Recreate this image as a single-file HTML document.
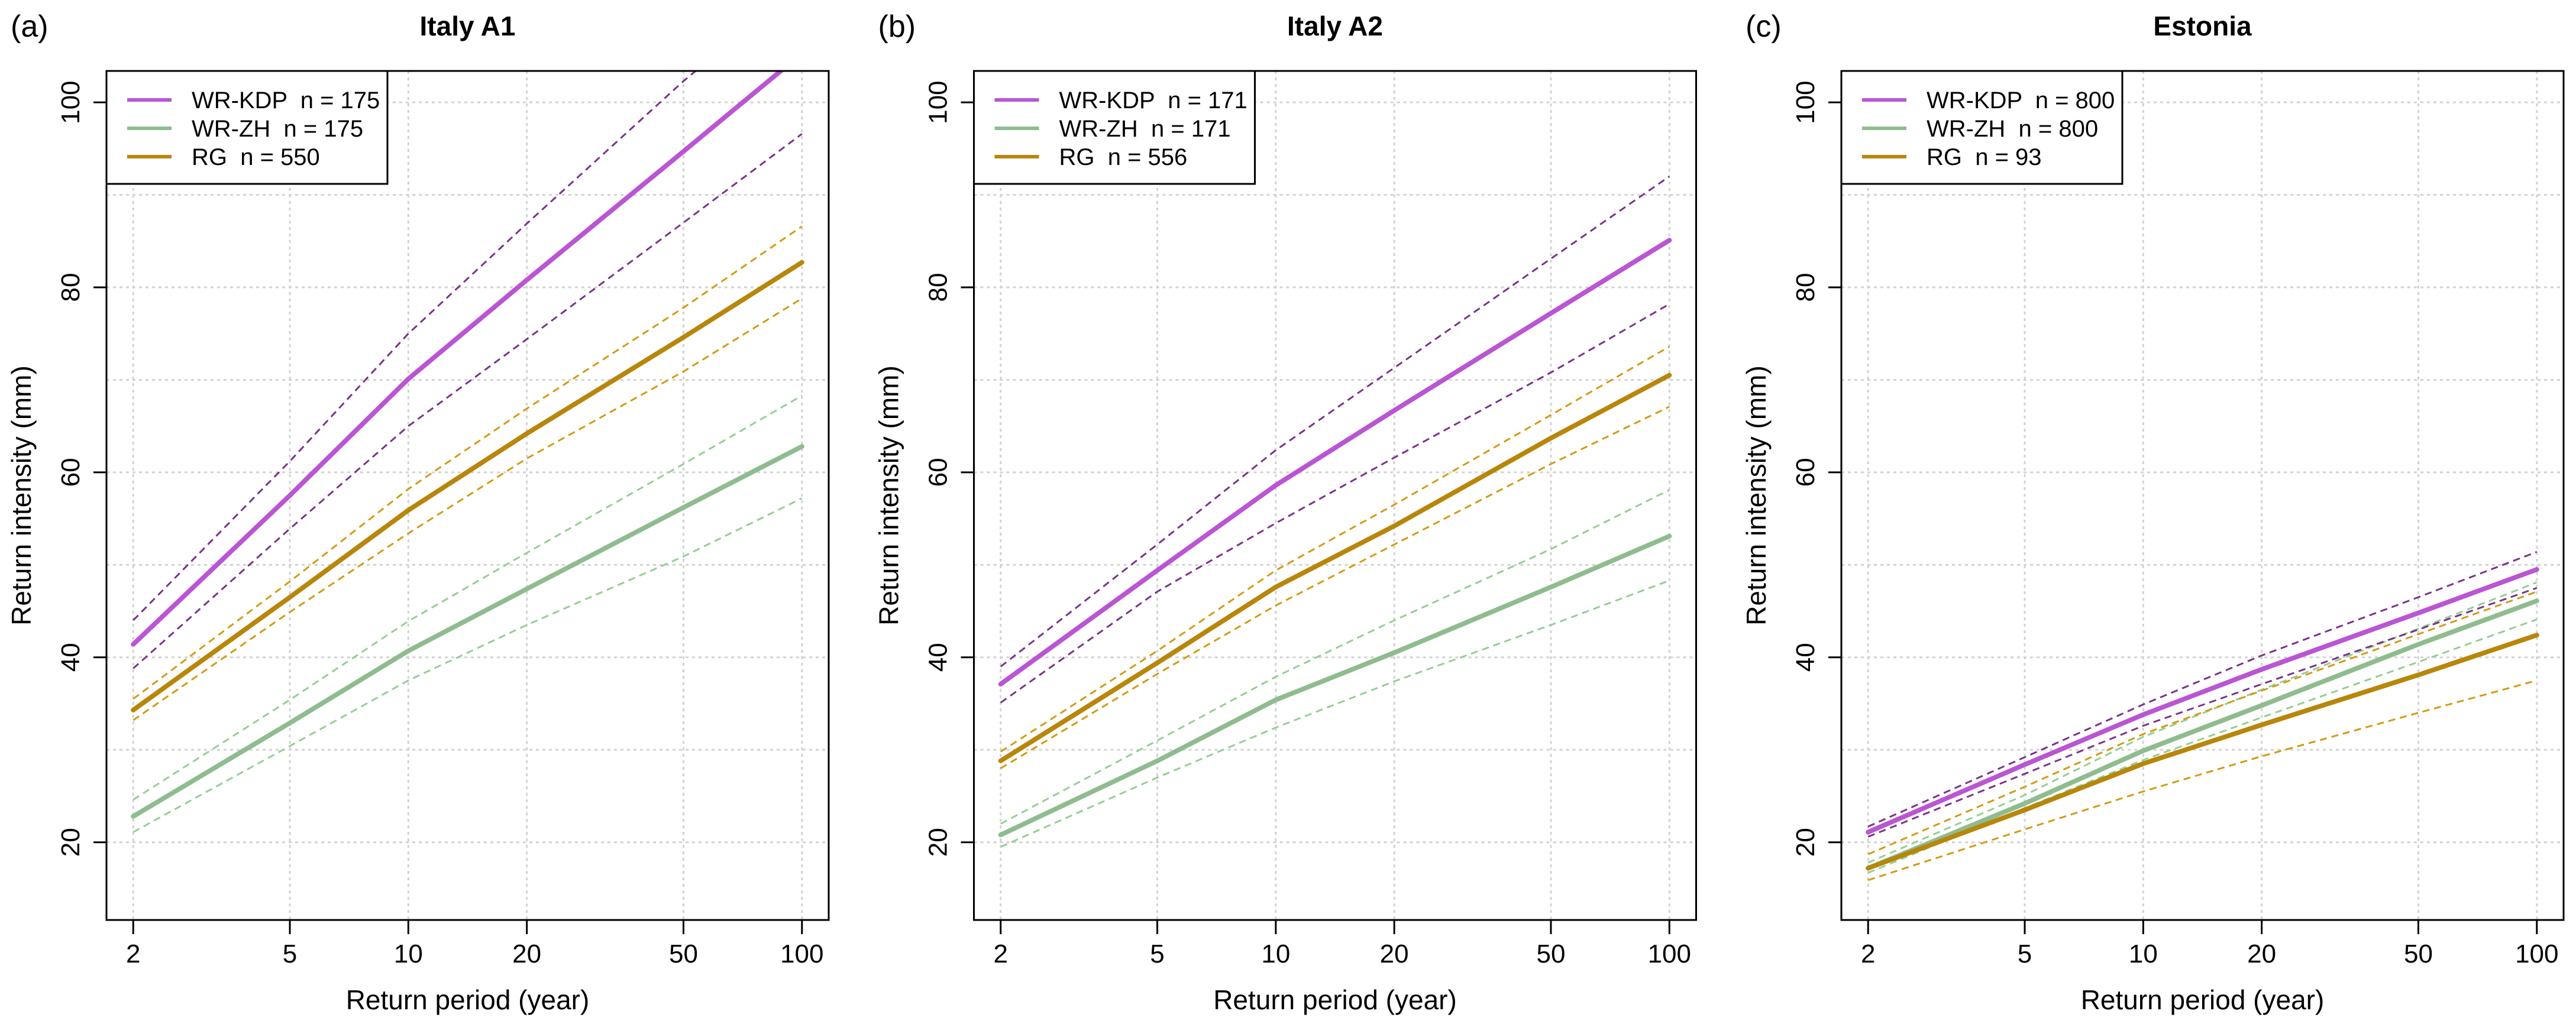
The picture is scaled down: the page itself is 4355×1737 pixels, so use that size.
<!DOCTYPE html>
<html><head><meta charset="utf-8"><style>
html,body{margin:0;padding:0;background:#fff;}
svg{display:block;font-family:"Liberation Sans",Arial,sans-serif;}
</style></head><body>
<svg id="chart" width="4355" height="1737" viewBox="0 0 4355 1737" xmlns="http://www.w3.org/2000/svg"></svg>
<script>
const periods = [2, 5, 10, 20, 50, 100];
const xTicks = [2, 5, 10, 20, 50, 100];
const yTicks = [20, 40, 60, 80, 100];
const yGrid = [20, 30, 40, 50, 60, 70, 80, 90, 100];
const panelTitles = ["Italy A1", "Italy A2", "Estonia"];
const panelLabels = ["(a)", "(b)", "(c)"];
const legendKDP = ["WR-KDP  n = 175", "WR-KDP  n = 171", "WR-KDP  n = 800"];
const legendZH = ["WR-ZH  n = 175", "WR-ZH  n = 171", "WR-ZH  n = 800"];
const legendRG = ["RG  n = 550", "RG  n = 556", "RG  n = 93"];

const kdpMain = [[41.4,57.5,70.1,80.8,94.7,105.3],[37.1,49.4,58.6,66.7,77.2,85.1],[21.1,28.4,33.8,38.7,44.8,49.5]];
const kdpUp   = [[44.0,61.2,75.0,86.9,102.3,113.0],[39.0,52.2,62.4,71.3,83.1,92.0],[21.7,29.2,34.9,40.2,46.5,51.4]];
const kdpLow  = [[38.8,53.9,65.0,74.4,87.0,96.6],[35.1,47.1,54.5,61.6,70.8,78.2],[20.6,27.4,32.6,37.1,43.0,47.5]];
const zhMain  = [[22.8,32.9,40.7,47.4,56.2,62.8],[20.8,28.8,35.4,40.5,47.6,53.1],[17.2,24.2,29.9,34.8,41.4,46.1]];
const zhUp    = [[24.6,35.4,43.9,51.3,60.9,68.3],[22.0,31.0,37.9,44.0,51.7,58.1],[17.8,25.1,31.4,36.5,43.1,48.1]];
const zhLow   = [[21.1,30.4,37.5,43.5,50.9,57.2],[19.5,27.0,32.4,37.4,43.5,48.3],[16.7,23.7,28.9,33.5,39.5,44.1]];
const rgMain  = [[34.3,46.5,55.9,64.2,74.6,82.7],[28.8,39.4,47.6,54.2,63.7,70.5],[17.2,23.5,28.5,32.7,38.1,42.4]];
const rgUp    = [[35.5,48.2,58.2,66.9,77.8,86.6],[29.8,40.7,49.4,56.5,66.2,73.6],[18.7,26.0,31.7,36.4,42.5,47.1]];
const rgLow   = [[33.2,44.9,53.4,61.5,70.9,78.8],[28.0,38.2,45.6,52.2,60.9,67.1],[15.9,21.4,25.5,29.3,34.0,37.5]];

const NS = "http://www.w3.org/2000/svg";
const svg = document.getElementById("chart");
function mk(tag, attrs, parent){const e=document.createElementNS(NS,tag);for(const k in attrs)e.setAttribute(k,attrs[k]);(parent||svg).appendChild(e);return e;}

const TOP=120, BOT=1556, W=1221;
const Y0=11.6, Y1=103.4;
function yS(v){return BOT-(v-Y0)/(Y1-Y0)*(BOT-TOP);}

const defs = mk("defs",{});
for(let p=0;p<3;p++){
  const L = 180 + 1466.5*p;
  const lx0 = Math.log(2)-0.04*Math.log(50), lx1 = Math.log(100)+0.04*Math.log(50);
  const xS = v => L + (Math.log(v)-lx0)/(lx1-lx0)*W;
  const cp = mk("clipPath",{id:"clip"+p},defs);
  mk("rect",{x:L,y:TOP,width:W,height:BOT-TOP},cp);

  const g = mk("g",{});
  
  

  // grid
  const grid = mk("g",{stroke:"#d3d3d3","stroke-width":3,"stroke-dasharray":"5 6"},g);
  
  
  xTicks.forEach(t=>mk("line",{x1:xS(t),x2:xS(t),y1:TOP,y2:BOT},grid));
  yGrid.forEach(t=>mk("line",{x1:L,x2:L+W,y1:yS(t),y2:yS(t)},grid));

  // series
  const sg = mk("g",{"clip-path":"url(#clip"+p+")",fill:"none","stroke-linejoin":"round","stroke-linecap":"round"},g);
  const series = [
    [zhUp[p],"#93cf93",3,"ci-upper-wr-zh",true],[zhLow[p],"#93cf93",3,"ci-lower-wr-zh",true],
    [rgUp[p],"#d49a10",3,"ci-upper-rg",true],[rgLow[p],"#d49a10",3,"ci-lower-rg",true],
    [kdpUp[p],"#7b318c",3,"ci-upper-wr-kdp",true],[kdpLow[p],"#7b318c",3,"ci-lower-wr-kdp",true],
    [zhMain[p],"#8fbc8f",8,"line-wr-zh",false],[rgMain[p],"#b8860b",8,"line-rg",false],[kdpMain[p],"#ba55d3",8,"line-wr-kdp",false]
  ];
  series.forEach(s=>{
    const pts = periods.map((t,i)=>xS(t).toFixed(1)+","+yS(s[0][i]).toFixed(1)).join(" ");
    const pl = mk("polyline",{points:pts,stroke:s[1],"stroke-width":s[2]},sg);
    if(s[4]){pl.setAttribute("stroke-dasharray","12 8");pl.setAttribute("stroke-linecap","butt");}
    
    
  });

  // box
  const box = mk("rect",{x:L,y:TOP,width:W,height:BOT-TOP,fill:"none",stroke:"#000","stroke-width":3},g);
  
  

  // x axis
  const xa = mk("g",{},g);
  
  
  mk("line",{x1:xS(2),x2:xS(100),y1:BOT,y2:BOT,stroke:"#000","stroke-width":3},xa);
  xTicks.forEach(t=>{
    mk("line",{x1:xS(t),x2:xS(t),y1:BOT,y2:BOT+24,stroke:"#000","stroke-width":3},xa);
    const tx = mk("text",{x:xS(t),y:1628,"text-anchor":"middle","font-size":44},xa);
    tx.textContent=t;
    
    
  });
  const xt = mk("text",{x:L+W/2,y:1707,"text-anchor":"middle","font-size":46},g);
  xt.textContent="Return period (year)";
  
  

  // y axis
  const ya = mk("g",{},g);
  
  
  mk("line",{x1:L,x2:L,y1:yS(20),y2:yS(100),stroke:"#000","stroke-width":3},ya);
  yTicks.forEach(t=>{
    mk("line",{x1:L-22,x2:L,y1:yS(t),y2:yS(t),stroke:"#000","stroke-width":3},ya);
    const tx = mk("text",{x:L-46,y:yS(t),"text-anchor":"middle","font-size":44,transform:"rotate(-90 "+(L-46)+" "+yS(t)+")"},ya);
    tx.textContent=t;
    
    
  });
  const yt = mk("text",{x:L-128,y:838,"text-anchor":"middle","font-size":46,transform:"rotate(-90 "+(L-128)+" 838)"},g);
  yt.textContent="Return intensity (mm)";
  
  

  // titles
  const ti = mk("text",{x:L+W/2,y:60,"text-anchor":"middle","font-size":46,"font-weight":"bold"},g);
  ti.textContent=panelTitles[p];
  
  
  const pl = mk("text",{x:L-162,y:62,"font-size":52},g);
  pl.textContent=panelLabels[p];
  
  

  // legend
  const lg = mk("g",{},g);
  
  
  mk("rect",{x:L,y:TOP,width:475,height:191,fill:"#fff",stroke:"#000","stroke-width":3},lg);
  const ents=[[legendKDP[p],"#ba55d3"],[legendZH[p],"#8fbc8f"],[legendRG[p],"#b8860b"]];
  ents.forEach((e,i)=>{
    const yy = 169+48*i;
    const eg = mk("g",{},lg);
    
    
    mk("line",{x1:L+35,x2:L+110,y1:yy,y2:yy,stroke:e[1],"stroke-width":6},eg);
    const tx = mk("text",{x:L+144,y:yy+14,"font-size":40,"xml:space":"preserve"},eg);
    tx.setAttribute("style","white-space:pre");
    tx.textContent=e[0];
  });
}
</script>
</body></html>
